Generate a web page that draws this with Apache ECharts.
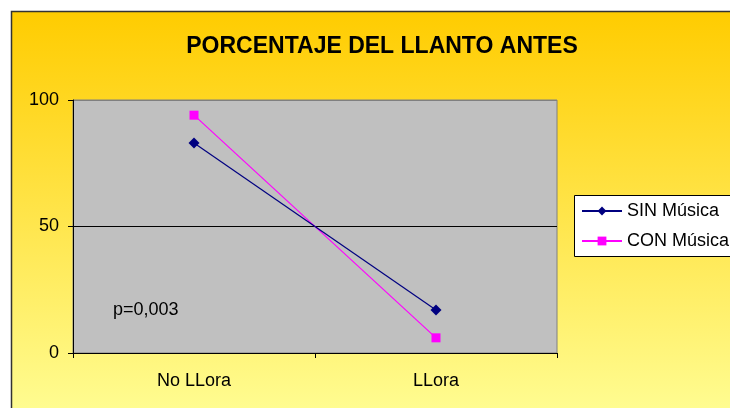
<!DOCTYPE html>
<html>
<head>
<meta charset="utf-8">
<script src="https://cdn.jsdelivr.net/npm/echarts@6/dist/echarts.min.js"></script>
<style>
html,body{margin:0;padding:0;background:#fff;}
#chart{width:730px;height:408px;}
</style>
</head>
<body>
<div id="chart"></div>
<script>
var categories = ['No LLora', 'LLora'];
var sinMusica = [83, 17];
var conMusica = [94, 6];
var yTicks = [0, 50, 100];
var titleText = 'PORCENTAJE DEL LLANTO ANTES';
var pValueText = 'p=0,003';

var FONT = '"Liberation Sans", Arial, sans-serif';
var chart = echarts.init(document.getElementById('chart'), null, {renderer: 'canvas'});
var option = {
  backgroundColor: '#ffffff',
  animation: false,
  graphic: [
    {
      type: 'rect', z: -10, silent: true,
      shape: {x: 11.5, y: 11.5, width: 740, height: 420},
      style: {
        fill: new echarts.graphic.LinearGradient(0, 0, 0, 1, [
          {offset: 0, color: '#FFCC00'},
          {offset: 1, color: '#FFFF99'}
        ]),
        stroke: '#333333', lineWidth: 1.5
      }
    },
    {
      type: 'rect', z: 0, silent: true,
      shape: {x: 574.5, y: 195.5, width: 200, height: 61},
      style: {fill: '#ffffff', stroke: '#000000', lineWidth: 1}
    },
    {
      type: 'text', z: 10, silent: true,
      left: 113, top: 301,
      style: {text: pValueText, font: '18px ' + FONT, fill: '#000'}
    }
  ],
  title: {
    text: titleText,
    left: 377, top: 30, textAlign: 'center',
    textStyle: {fontFamily: FONT, fontSize: 23, fontWeight: 'bold', color: '#000'}
  },
  legend: {
    orient: 'vertical',
    left: 574, top: 195,
    z: 5,
    padding: [7, 5, 5, 7],
    itemGap: 12,
    itemWidth: 40, itemHeight: 11,
    textStyle: {fontFamily: FONT, fontSize: 18, color: '#000'},
    data: ['SIN Música', 'CON Música']
  },
  grid: {
    left: 73, top: 100, right: 173, bottom: 55,
    show: true, backgroundColor: '#C0C0C0',
    borderColor: '#808080', borderWidth: 1
  },
  xAxis: {
    type: 'category',
    data: categories,
    boundaryGap: true,
    axisLine: {lineStyle: {color: '#000', width: 1}},
    axisTick: {show: true, length: 5, lineStyle: {color: '#000'}},
    axisLabel: {fontFamily: FONT, fontSize: 18, color: '#000', margin: 19},
    splitLine: {show: false}
  },
  yAxis: {
    type: 'value',
    min: yTicks[0], max: yTicks[yTicks.length - 1], interval: 50,
    axisLine: {show: true, lineStyle: {color: '#000', width: 1}},
    axisTick: {show: true, length: 5, lineStyle: {color: '#000'}},
    axisLabel: {fontFamily: FONT, fontSize: 18, color: '#000', margin: 14},
    splitLine: {show: true, lineStyle: {color: ['#000', '#000', '#808080'], width: 1}}
  },
  series: [
    {
      name: 'SIN Música', type: 'line', data: sinMusica,
      symbol: 'diamond', symbolSize: 11,
      lineStyle: {color: '#000080', width: 1.2},
      itemStyle: {color: '#000080'},
      z: 3
    },
    {
      name: 'CON Música', type: 'line', data: conMusica,
      symbol: 'rect', symbolSize: 9,
      lineStyle: {color: '#FF00FF', width: 1.2},
      itemStyle: {color: '#FF00FF'},
      z: 2
    }
  ]
};
chart.setOption(option);
</script>
</body>
</html>
